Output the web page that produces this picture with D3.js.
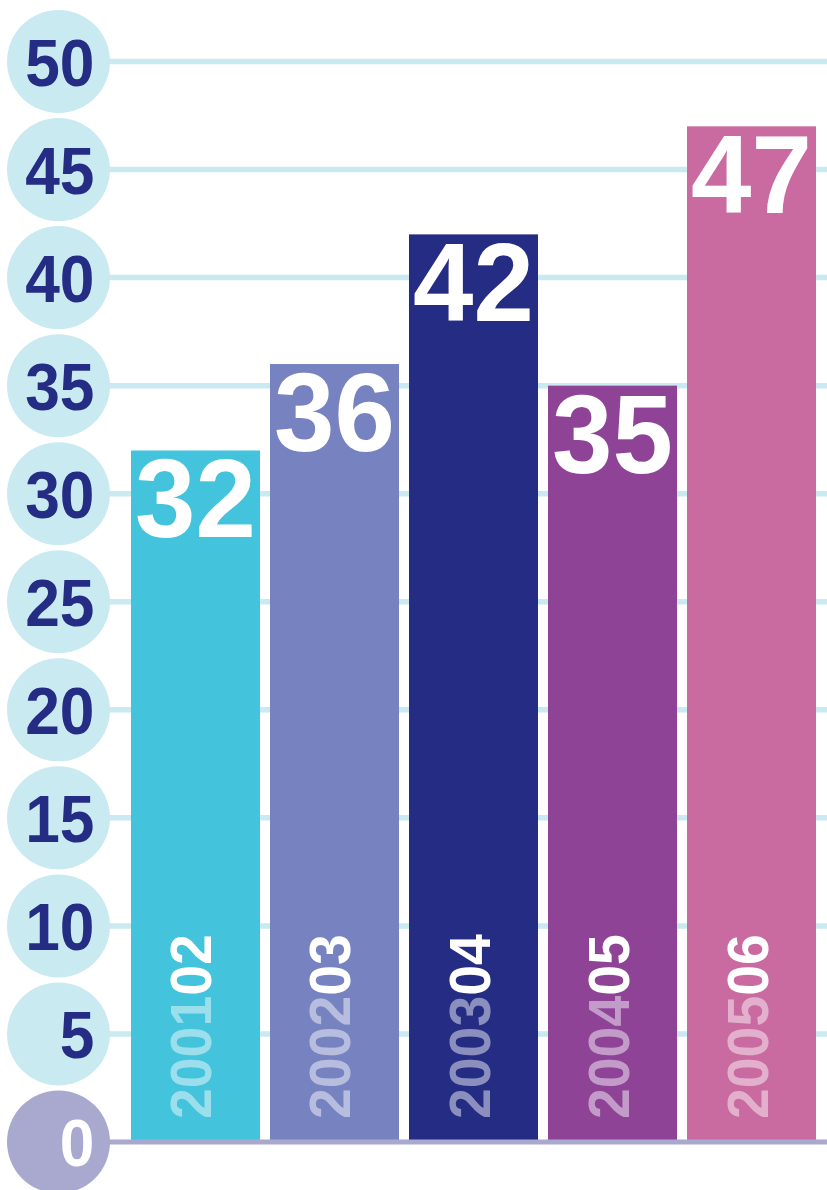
<!DOCTYPE html>
<html>
<head>
<meta charset="utf-8">
<script src="https://cdn.jsdelivr.net/npm/d3@7"></script>
<style>
  body { margin: 0; background: #fff; }
  svg { display: block; font-family: "Liberation Sans", Arial, sans-serif; font-weight: bold; }
</style>
</head>
<body>
<div id="chart"></div>
<script>
  const categories = ["200102", "200203", "200304", "200405", "200506"]
  const values = [32, 36, 42, 35, 47]
  const barColors = ["#43c3dc", "#7783c1", "#252c84", "#8e4397", "#c96ba0"]
  const ticks = [0, 5, 10, 15, 20, 25, 30, 35, 40, 45, 50]

  const width = 827
  const height = 1190

  const svg = d3.select("#chart")
    .append("svg")
    .attr("width", width)
    .attr("height", height)

  const y = d3.scaleLinear()
    .domain([0, 50])
    .range([1142, 61.5])

  const x = d3.scaleBand()
    .domain(categories)
    .range([131, 816])
    .paddingInner(0.072)
    .paddingOuter(0)

  // gridlines
  svg.append("g")
    .selectAll("line")
    .data(ticks.filter(d => d > 0))
    .join("line")
      .attr("x1", 100)
      .attr("x2", width)
      .attr("y1", d => y(d))
      .attr("y2", d => y(d))
      .attr("stroke", "#c9eaf1")
      .attr("stroke-width", 5.5)

  // bars
  svg.append("g")
    .selectAll("rect")
    .data(values)
    .join("rect")
      .attr("x", (d, i) => x(categories[i]))
      .attr("y", d => y(d))
      .attr("width", x.bandwidth())
      .attr("height", d => y(0) - y(d))
      .attr("fill", (d, i) => barColors[i])

  // baseline
  svg.append("line")
    .attr("x1", 100)
    .attr("x2", width)
    .attr("y1", y(0))
    .attr("y2", y(0))
    .attr("stroke", "#a9a8cf")
    .attr("stroke-width", 5)

  // value labels
  svg.append("g")
      .attr("font-size", 112)
      .attr("fill", "#fff")
      .attr("text-anchor", "middle")
    .selectAll("text")
    .data(values)
    .join("text")
      .attr("transform", (d, i) => `translate(${x(categories[i]) + x.bandwidth() / 2},${y(d) + 87}) scale(0.97,1)`)
      .text(d => d)

  // category labels, rotated
  const cat = svg.append("g")
      .attr("font-size", 58)
    .selectAll("text")
    .data(categories)
    .join("text")
      .attr("transform", d => `translate(${x(d) + x.bandwidth() / 2 + 16},1119) rotate(-90) scale(0.955,1)`)

  cat.append("tspan")
    .attr("fill", "#fff")
    .attr("fill-opacity", 0.47)
    .text(d => d.slice(0, 4))

  cat.append("tspan")
    .attr("fill", "#fff")
    .text(d => d.slice(4))

  // y axis circles
  const tick = svg.append("g")
    .selectAll("g")
    .data(ticks)
    .join("g")
      .attr("transform", d => `translate(58.5,${y(d)})`)

  tick.append("circle")
    .attr("r", 51.5)
    .attr("fill", d => d === 0 ? "#a9a8cf" : "#c9eaf1")

  tick.append("text")
    .attr("transform", "translate(36,24) scale(0.93,1)")
    .attr("text-anchor", "end")
    .attr("font-size", 67)
    .attr("fill", d => d === 0 ? "#fff" : "#252c84")
    .text(d => d)
</script>
</body>
</html>
